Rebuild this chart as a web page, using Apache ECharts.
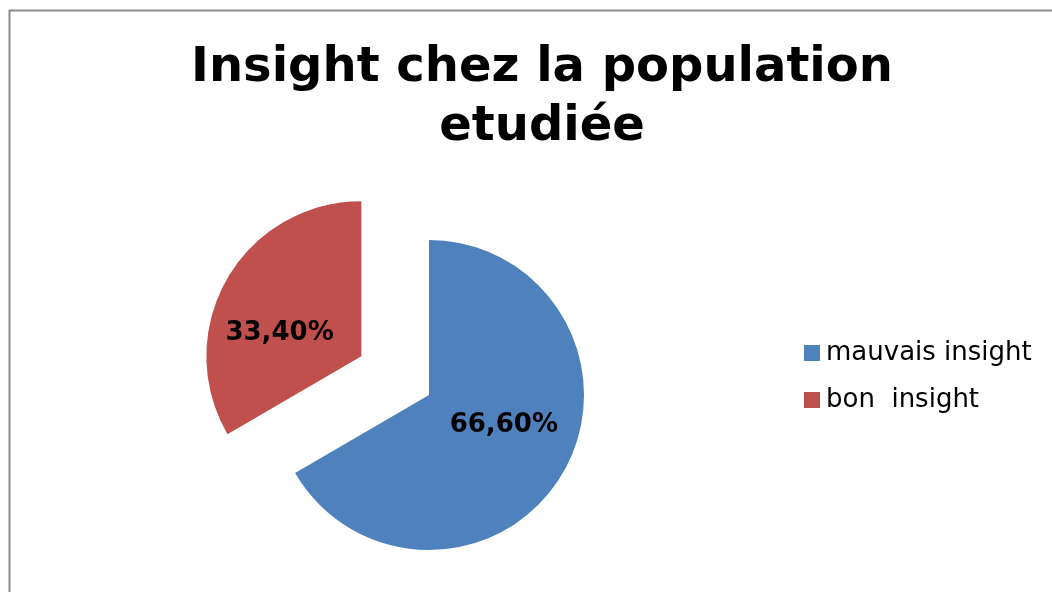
<!DOCTYPE html>
<html style="height: 100%">
<head>
<meta charset="utf-8" />
<title>Insight</title>
<script type="text/javascript" src="https://cdn.jsdelivr.net/npm/echarts@6/dist/echarts.min.js"></script>
</head>
<body style="height: 100%; margin: 0; background: #fff;">
<div id="container" style="width: 1052px; height: 592px;"></div>
<script type="text/javascript">
var categories = ['mauvais insight', 'bon  insight'];
var percents = [66.6, 33.4];
var colors = ['#4f81bd', '#c0504d'];
var labelShift = [[5, -10], [-12, 17]];

var dom = document.getElementById("container");
var myChart = echarts.init(dom);

var pieData = [];
for (var i = 0; i < categories.length; i++) {
    pieData.push({
        name: categories[i],
        value: percents[i],
        selected: i === 1,
        itemStyle: { color: colors[i] },
        label: { offset: labelShift[i] },
        select: { label: { offset: labelShift[i] }, itemStyle: { color: colors[i] } }
    });
}

var option = {
    animation: false,
    backgroundColor: '#ffffff',
    title: {
        text: 'Insight chez la population\netudiée',
        left: 537,
        textAlign: 'center',
        top: 34,
        textStyle: {
            fontFamily: 'DejaVu Sans',
            fontWeight: 'bold',
            fontSize: 48,
            lineHeight: 59,
            color: '#000'
        }
    },
    graphic: [{
        type: 'rect',
        shape: { x: 9.5, y: 10.5, width: 1100, height: 700 },
        style: { fill: 'none', stroke: '#8c8c8c', lineWidth: 2 }
    }],
    legend: {
        orient: 'vertical',
        left: 799,
        top: 335,
        itemWidth: 16,
        itemHeight: 16,
        itemGap: 21,
        icon: 'rect',
        selectedMode: false,
        textStyle: {
            fontFamily: 'DejaVu Sans',
            fontSize: 26,
            color: '#000',
            padding: [0, 0, 0, 1]
        },
        data: categories
    },
    series: [{
        type: 'pie',
        center: [429, 395],
        radius: 155,
        startAngle: 90,
        clockwise: true,
        selectedMode: 'single',
        selectedOffset: 78,
        label: {
            position: 'inside',
            fontFamily: 'DejaVu Sans',
            fontWeight: 'bold',
            fontSize: 26,
            color: '#000',
            formatter: function (p) {
                return p.value.toFixed(2).replace('.', ',') + '%';
            }
        },
        labelLine: { show: false },
        emphasis: { disabled: true },
        data: pieData
    }]
};
myChart.setOption(option, true);
</script>
</body>
</html>
